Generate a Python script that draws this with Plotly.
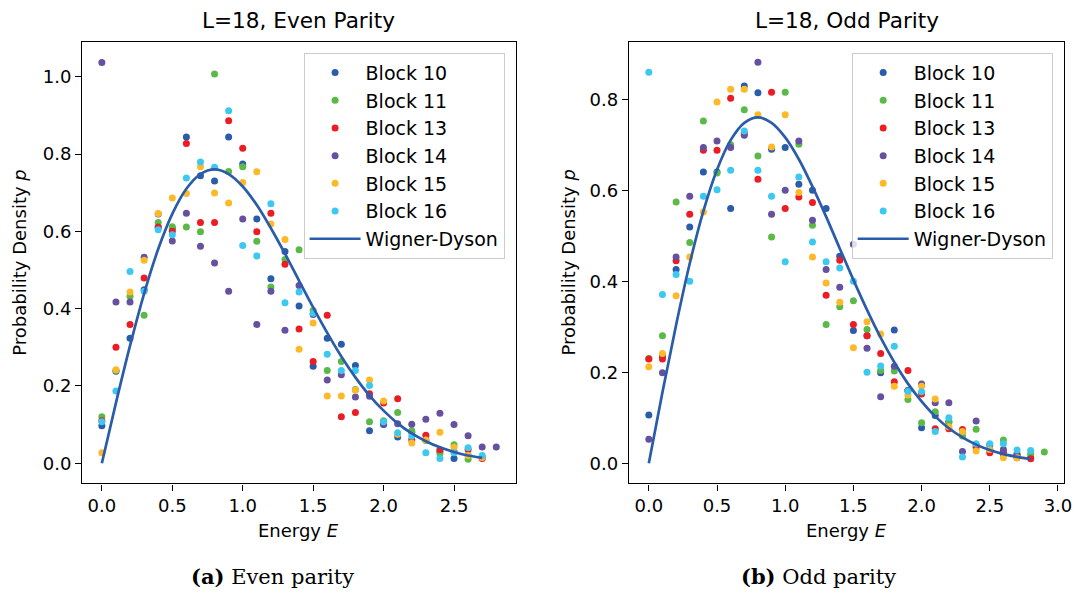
import plotly.graph_objects as go

# ---------------- data ----------------
energy_bins = [0.0, 0.1, 0.2, 0.3, 0.4, 0.5, 0.6, 0.7, 0.8, 0.9,
               1.0, 1.1, 1.2, 1.3, 1.4, 1.5, 1.6, 1.7, 1.8, 1.9,
               2.0, 2.1, 2.2, 2.3, 2.4, 2.5, 2.6, 2.7, 2.8, 2.9]

block_names = ["Block 10", "Block 11", "Block 13", "Block 14", "Block 15", "Block 16"]

# Even parity
even_b10 = [0.097, 0.238, 0.323, 0.449, 0.610, 0.607, 0.844, 0.744, 0.730, 0.844, 0.774, 0.632, 0.477, 0.548,
            0.407, 0.251, 0.323, 0.308, 0.253, 0.084, 0.100, 0.068, 0.080, 0.060, 0.030, 0.012, 0.020, 0.015]
even_b11 = [0.120, 0.240, 0.432, 0.383, 0.623, 0.612, 0.611, 0.599, 1.007, 0.755, 0.767, 0.574, 0.456, 0.527,
            0.552, 0.395, 0.240, 0.263, 0.191, 0.107, 0.110, 0.131, 0.084, 0.059, 0.025, 0.048, 0.010, 0.015]
even_b13 = [0.110, 0.300, 0.359, 0.479, 0.611, 0.600, 0.827, 0.623, 0.623, 0.886, 0.815, 0.599, 0.647, 0.515,
            0.347, 0.263, 0.383, 0.120, 0.131, 0.180, 0.156, 0.167, 0.061, 0.072, 0.035, 0.030, 0.035, 0.012]
even_b14 = [1.037, 0.417, 0.417, 0.533, 0.645, 0.575, 0.647, 0.561, 0.518, 0.445, 0.632, 0.359, 0.445, 0.344,
            0.460, 0.385, 0.215, 0.229, 0.171, 0.173, 0.101, 0.102, 0.101, 0.114, 0.129, 0.100, 0.071, 0.042, 0.042]
even_b15 = [0.027, 0.242, 0.443, 0.525, 0.646, 0.686, 0.698, 0.767, 0.699, 0.673, 0.726, 0.754, 0.619, 0.579,
            0.295, 0.363, 0.174, 0.174, 0.189, 0.215, 0.161, 0.075, 0.052, 0.060, 0.080, 0.041, 0.020, 0.015]
even_b16 = [0.107, 0.187, 0.496, 0.445, 0.604, 0.591, 0.738, 0.779, 0.766, 0.912, 0.563, 0.536, 0.671, 0.415,
            0.443, 0.388, 0.282, 0.240, 0.240, 0.201, 0.107, 0.079, 0.070, 0.027, 0.012, 0.027, 0.040, 0.020]

# Odd parity
odd_b10 = [0.106, 0.235, 0.426, 0.519, 0.640, 0.640, 0.560, 0.829, 0.814, 0.690, 0.694, 0.613, 0.600, 0.560,
           0.455, 0.292, 0.280, 0.199, 0.293, 0.160, 0.078, 0.105, 0.091, 0.070, 0.040, 0.030, 0.020, 0.015, 0.012]
odd_b11 = [0.230, 0.280, 0.574, 0.485, 0.752, 0.638, 0.700, 0.777, 0.675, 0.497, 0.815, 0.701, 0.523, 0.305,
           0.344, 0.357, 0.294, 0.204, 0.203, 0.140, 0.089, 0.113, 0.090, 0.060, 0.075, 0.030, 0.051, 0.020,
           0.020, 0.025]
odd_b13 = [0.229, 0.229, 0.445, 0.547, 0.688, 0.688, 0.802, 0.725, 0.624, 0.815, 0.560, 0.585, 0.573, 0.369,
           0.446, 0.305, 0.280, 0.241, 0.179, 0.204, 0.152, 0.076, 0.076, 0.074, 0.035, 0.023, 0.026, 0.012, 0.010]
odd_b14 = [0.053, 0.199, 0.453, 0.587, 0.694, 0.708, 0.694, 0.721, 0.881, 0.547, 0.600, 0.708, 0.534, 0.426,
           0.387, 0.481, 0.253, 0.146, 0.213, 0.160, 0.174, 0.133, 0.133, 0.026, 0.093, 0.040, 0.030, 0.020]
odd_b15 = [0.212, 0.241, 0.368, 0.453, 0.552, 0.794, 0.822, 0.822, 0.766, 0.695, 0.766, 0.595, 0.453, 0.396,
           0.354, 0.254, 0.311, 0.284, 0.169, 0.150, 0.169, 0.141, 0.080, 0.070, 0.027, 0.030, 0.012, 0.012]
odd_b16 = [0.859, 0.371, 0.415, 0.400, 0.587, 0.601, 0.644, 0.730, 0.644, 0.587, 0.443, 0.629, 0.486, 0.443,
           0.429, 0.400, 0.200, 0.214, 0.257, 0.158, 0.157, 0.070, 0.100, 0.014, 0.043, 0.043, 0.043, 0.029, 0.028]

# Wigner-Dyson reference curve at the bin energies
wigner_dyson = [0.000, 0.156, 0.304, 0.439, 0.554, 0.645, 0.710, 0.748, 0.760, 0.748, 0.716, 0.668, 0.608,
                0.542, 0.472, 0.403, 0.337, 0.276, 0.222, 0.175, 0.136, 0.103, 0.077, 0.057, 0.041, 0.029,
                0.020, 0.014, 0.009]
wd_len_even = 28
wd_len_odd = 29

even_series = [even_b10, even_b11, even_b13, even_b14, even_b15, even_b16]
odd_series = [odd_b10, odd_b11, odd_b13, odd_b14, odd_b15, odd_b16]

x_ticks_even = [0.0, 0.5, 1.0, 1.5, 2.0, 2.5]
x_ticks_odd = [0.0, 0.5, 1.0, 1.5, 2.0, 2.5, 3.0]
y_ticks_even = [0.0, 0.2, 0.4, 0.6, 0.8, 1.0]
y_ticks_odd = [0.0, 0.2, 0.4, 0.6, 0.8]

# ---------------- style ----------------
colors = ["#2A5CAA", "#5BBA47", "#EC1C24", "#6650A0", "#FDB927", "#3CC8F0"]
line_color = "#2A5CAA"
OFF = 8  # page body margin of the browser
W, H = 1084 - OFF, 594 - OFF
FONT = "DejaVu Sans"


def px_x(p):
    return (p - OFF) / W


def px_y(p):
    return 1 - (p - OFF) / H


fig = go.Figure()

panels = [
    dict(series=even_series, wd_len=wd_len_even, xa="x", ya="y", legend="legend"),
    dict(series=odd_series, wd_len=wd_len_odd, xa="x2", ya="y2", legend="legend2"),
]

for pan in panels:
    for name, vals, col in zip(block_names, pan["series"], colors):
        fig.add_trace(go.Scatter(
            x=energy_bins[:len(vals)], y=vals, mode="markers", name=name,
            marker=dict(color=col, size=7, line=dict(width=0)),
            xaxis=pan["xa"], yaxis=pan["ya"], legend=pan["legend"],
        ))
    fig.add_trace(go.Scatter(
        x=energy_bins[:pan["wd_len"]], y=wigner_dyson[:pan["wd_len"]], mode="lines",
        name="Wigner-Dyson", line=dict(color=line_color, width=2.7, shape="spline"),
        xaxis=pan["xa"], yaxis=pan["ya"], legend=pan["legend"],
    ))

axis_common = dict(
    showline=True, linecolor="black", linewidth=1.4, mirror=True,
    ticks="outside", ticklen=6, tickwidth=1.4, tickcolor="black",
    showgrid=False, zeroline=False, tickformat=".1f",
    tickfont=dict(family=FONT, size=18, color="black"),
)

ytop, ybot = 42.3, 483.3
fig.update_layout(
    width=W, height=H,
    margin=dict(l=0, r=0, t=0, b=0),
    paper_bgcolor="white", plot_bgcolor="white",
    xaxis=dict(domain=[px_x(82.7), px_x(519.8)], range=[-0.14, 2.94], tickvals=x_ticks_even,
               anchor="y", **axis_common),
    yaxis=dict(domain=[px_y(ybot), px_y(ytop)], range=[-0.052, 1.089], tickvals=y_ticks_even,
               anchor="x", **axis_common),
    xaxis2=dict(domain=[px_x(633.7), px_x(1072)], range=[-0.145, 3.045], tickvals=x_ticks_odd,
                anchor="y2", **axis_common),
    yaxis2=dict(domain=[px_y(ybot), px_y(ytop)], range=[-0.044, 0.925], tickvals=y_ticks_odd,
                anchor="x2", **axis_common),
    showlegend=True,
)

legend_common = dict(
    xanchor="right", yanchor="top",
    bgcolor="rgba(255,255,255,0.8)", bordercolor="#cccccc", borderwidth=1,
    font=dict(family=FONT, size=19, color="black"),
    itemsizing="trace", itemwidth=51,
)
fig.update_layout(
    legend=dict(x=px_x(508.3), y=px_y(52.7), **legend_common),
    legend2=dict(x=px_x(1060.5), y=px_y(52.7), **legend_common),
)

annotations = []
# titles
for text, cx in [("L=18, Even Parity", 301.0), ("L=18, Odd Parity", 853.0)]:
    annotations.append(dict(text=text, x=px_x(cx), y=px_y(21), xref="paper", yref="paper",
                            showarrow=False, xanchor="center", yanchor="middle",
                            font=dict(family=FONT, size=21.6, color="black")))
# x axis titles
for cx in [301.0, 853.0]:
    annotations.append(dict(text="Energy <i>E</i>", x=px_x(cx), y=px_y(530), xref="paper", yref="paper",
                            showarrow=False, xanchor="center", yanchor="middle",
                            font=dict(family=FONT, size=18, color="black")))
# y axis titles
for cx in [20.0, 573.0]:
    annotations.append(dict(text="Probability Density <i>p</i>", x=px_x(cx), y=px_y(262.8),
                            xref="paper", yref="paper", textangle=-90,
                            showarrow=False, xanchor="center", yanchor="middle",
                            font=dict(family=FONT, size=18, color="black")))
# captions
for text, cx in [("<b>(a)</b> Even parity", 274.0), ("<b>(b)</b> Odd parity", 825.0)]:
    annotations.append(dict(text=text, x=px_x(cx), y=px_y(576), xref="paper", yref="paper",
                            showarrow=False, xanchor="center", yanchor="middle",
                            font=dict(family="DejaVu Serif", size=21, color="black")))
fig.update_layout(annotations=annotations)

fig.write_html("out.html")
